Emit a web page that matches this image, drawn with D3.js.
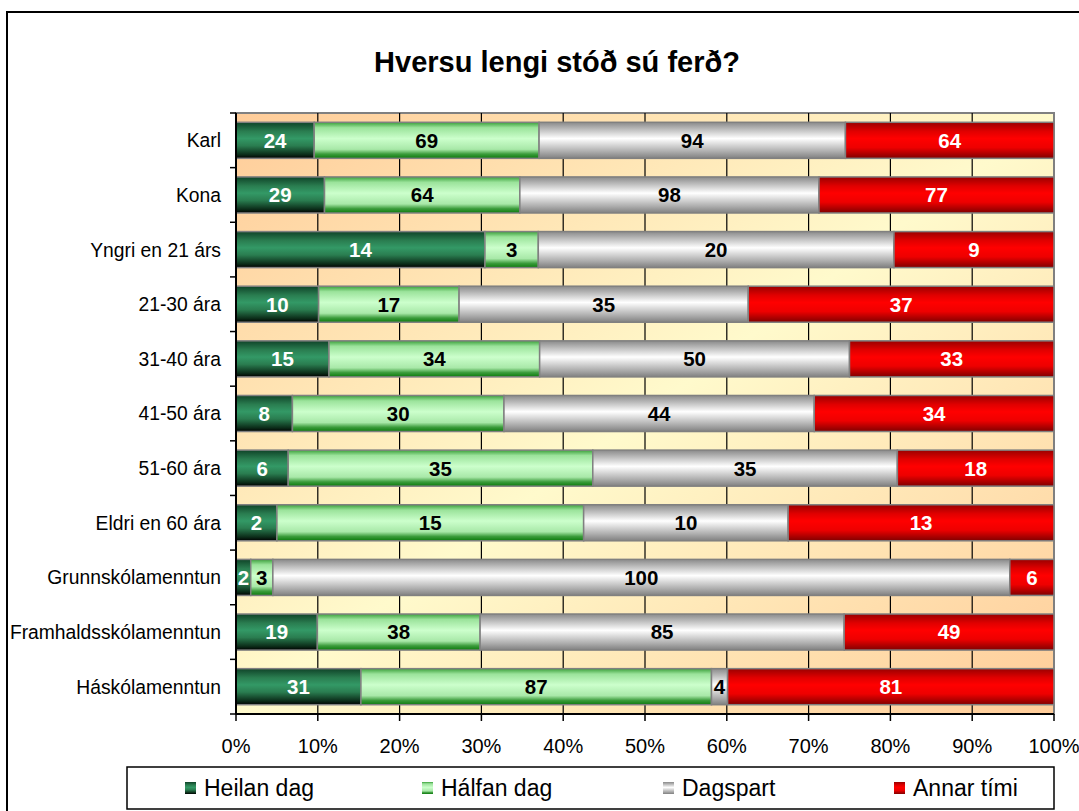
<!DOCTYPE html>
<html>
<head>
<meta charset="utf-8">
<script src="https://cdn.jsdelivr.net/npm/d3@7"></script>
<style>
  body { margin: 0; background: #fff; }
  svg { font-family: "Liberation Sans", Arial, sans-serif; }
</style>
</head>
<body>
<div id="chart"></div>
<script>
// data
const categories = ['Karl', 'Kona', 'Yngri en 21 árs', '21-30 ára', '31-40 ára', '41-50 ára',
  '51-60 ára', 'Eldri en 60 ára', 'Grunnskólamenntun', 'Framhaldsskólamenntun', 'Háskólamenntun'];
const seriesNames = ['Heilan dag', 'Hálfan dag', 'Dagspart', 'Annar tími'];
const heilanDag = [24, 29, 14, 10, 15, 8, 6, 2, 2, 19, 31];
const halfanDag = [69, 64, 3, 17, 34, 30, 35, 15, 3, 38, 87];
const dagspart = [94, 98, 20, 35, 50, 44, 35, 10, 100, 85, 4];
const annarTimi = [64, 77, 9, 37, 33, 34, 18, 13, 6, 49, 81];
const tickLabels = ['0%', '10%', '20%', '30%', '40%', '50%', '60%', '70%', '80%', '90%', '100%'];

const width = 1079, height = 811;
const margin = { top: 113, left: 236, right: 25, bottom: 97 };
const chartWidth = width - margin.left - margin.right;
const chartHeight = height - margin.top - margin.bottom;

const svg = d3.select('#chart').append('svg')
  .attr('width', width)
  .attr('height', height);

const defs = svg.append('defs');

// plot background gradient
const bg = defs.append('linearGradient').attr('id', 'bg')
  .attr('x1', 0).attr('y1', 0).attr('x2', 1).attr('y2', 1);
bg.append('stop').attr('offset', '0%').attr('stop-color', '#ffcc99');
bg.append('stop').attr('offset', '50%').attr('stop-color', '#fffacc');
bg.append('stop').attr('offset', '100%').attr('stop-color', '#ffcc99');

// cylinder-like bar gradients
const gradStops = [
  [['0%', '#0f4328'], ['25%', '#2a7d50'], ['45%', '#339966'], ['65%', '#2a7d50'], ['90%', '#0b2b18'], ['100%', '#000000']],
  [['0%', '#3aa03a'], ['15%', '#9be39b'], ['45%', '#ccffcc'], ['75%', '#a8e8a8'], ['88%', '#3c9c3c'], ['100%', '#0b7a0b']],
  [['0%', '#8a8a8a'], ['45%', '#ffffff'], ['80%', '#b0b0b0'], ['100%', '#808080']],
  [['0%', '#990000'], ['25%', '#e00000'], ['45%', '#ff0000'], ['70%', '#ee0000'], ['100%', '#800000']]
];
gradStops.forEach((stops, i) => {
  const g = defs.append('linearGradient').attr('id', 'g' + i)
    .attr('x1', 0).attr('y1', 0).attr('x2', 0).attr('y2', 1);
  stops.forEach(s => g.append('stop').attr('offset', s[0]).attr('stop-color', s[1]));
});
const labelColors = ['#ffffff', '#000000', '#000000', '#ffffff'];

// outer frame
svg.append('rect')
  .attr('x', 7).attr('y', 12)
  .attr('width', width + 20).attr('height', height + 20)
  .attr('fill', 'none').attr('stroke', '#000').attr('stroke-width', 2);

// title
svg.append('text')
  .attr('x', 557).attr('y', 72)
  .attr('text-anchor', 'middle')
  .attr('font-size', 29).attr('font-weight', 'bold')
  .text('Hversu lengi stóð sú ferð?');

const chartLayer = svg.append('g')
  .attr('transform', 'translate(' + [margin.left, margin.top] + ')');

const x = d3.scaleLinear().domain([0, 1]).range([0, chartWidth]);
const y = d3.scaleBand().domain(categories).range([0, chartHeight]).paddingInner(0.34).paddingOuter(0.17);

// background
chartLayer.append('rect')
  .attr('width', chartWidth).attr('height', chartHeight)
  .attr('fill', 'url(#bg)')
  .attr('stroke', '#808080').attr('stroke-width', 2);

// gridlines
chartLayer.append('g').selectAll('line')
  .data(d3.range(1, 10).map(d => d / 10))
  .enter().append('line')
  .attr('x1', d => x(d)).attr('x2', d => x(d))
  .attr('y1', 0).attr('y2', chartHeight)
  .attr('stroke', '#000').attr('stroke-width', 1.2);

// stacked data
const rows = categories.map((c, i) => {
  const vals = [heilanDag[i], halfanDag[i], dagspart[i], annarTimi[i]];
  const total = d3.sum(vals);
  let acc = 0;
  return vals.map((v, k) => {
    const seg = { cat: c, k: k, value: v, x0: acc / total, x1: (acc + v) / total };
    acc += v;
    return seg;
  });
});

const segs = chartLayer.append('g').selectAll('g')
  .data(d3.merge(rows))
  .enter().append('g');

segs.append('rect')
  .attr('x', d => x(d.x0))
  .attr('y', d => y(d.cat))
  .attr('width', d => x(d.x1) - x(d.x0))
  .attr('height', y.bandwidth())
  .attr('fill', d => 'url(#g' + d.k + ')')
  .attr('stroke', '#808080').attr('stroke-width', 1.5);

segs.append('text')
  .attr('x', d => (x(d.x0) + x(d.x1)) / 2)
  .attr('y', d => y(d.cat) + y.bandwidth() / 2)
  .attr('dy', '0.36em')
  .attr('text-anchor', 'middle')
  .attr('font-size', 20.5).attr('font-weight', 'bold')
  .attr('fill', d => labelColors[d.k])
  .text(d => d.value);

// axes
chartLayer.append('line')
  .attr('x1', 0).attr('x2', 0).attr('y1', 0).attr('y2', chartHeight)
  .attr('stroke', '#000').attr('stroke-width', 2);
chartLayer.append('line')
  .attr('x1', 0).attr('x2', chartWidth).attr('y1', chartHeight).attr('y2', chartHeight)
  .attr('stroke', '#000').attr('stroke-width', 2);

// category boundary ticks
chartLayer.append('g').selectAll('line')
  .data(d3.range(categories.length + 1))
  .enter().append('line')
  .attr('x1', -6).attr('x2', 0)
  .attr('y1', d => d * y.step()).attr('y2', d => d * y.step())
  .attr('stroke', '#000').attr('stroke-width', 1.5);

chartLayer.append('g').selectAll('text')
  .data(categories)
  .enter().append('text')
  .attr('x', -15)
  .attr('y', d => y(d) + y.bandwidth() / 2)
  .attr('dy', '0.36em')
  .attr('text-anchor', 'end')
  .attr('font-size', 19.3)
  .text(d => d);

// x ticks
chartLayer.append('g').selectAll('line')
  .data(tickLabels)
  .enter().append('line')
  .attr('x1', (d, i) => x(i / 10)).attr('x2', (d, i) => x(i / 10))
  .attr('y1', chartHeight).attr('y2', chartHeight + 7)
  .attr('stroke', '#000').attr('stroke-width', 1.5);

chartLayer.append('g').selectAll('text')
  .data(tickLabels)
  .enter().append('text')
  .attr('x', (d, i) => x(i / 10))
  .attr('y', chartHeight + 39)
  .attr('text-anchor', 'middle')
  .attr('font-size', 20)
  .text(d => d);

// legend
const legend = svg.append('g');
legend.append('rect')
  .attr('x', 127).attr('y', 767)
  .attr('width', 927).attr('height', 42)
  .attr('fill', '#fff').attr('stroke', '#000').attr('stroke-width', 1.5);

const legendX = [185, 422, 663, 894];
const item = legend.selectAll('g.item')
  .data(seriesNames)
  .enter().append('g').classed('item', true)
  .attr('transform', (d, i) => 'translate(' + [legendX[i], 788] + ')');
item.append('rect')
  .attr('x', 0).attr('y', -6)
  .attr('width', 11).attr('height', 12)
  .attr('fill', (d, i) => 'url(#g' + i + ')');
item.append('text')
  .attr('x', 19).attr('dy', '0.36em')
  .attr('font-size', 23)
  .text(d => d);
</script>
</body>
</html>
